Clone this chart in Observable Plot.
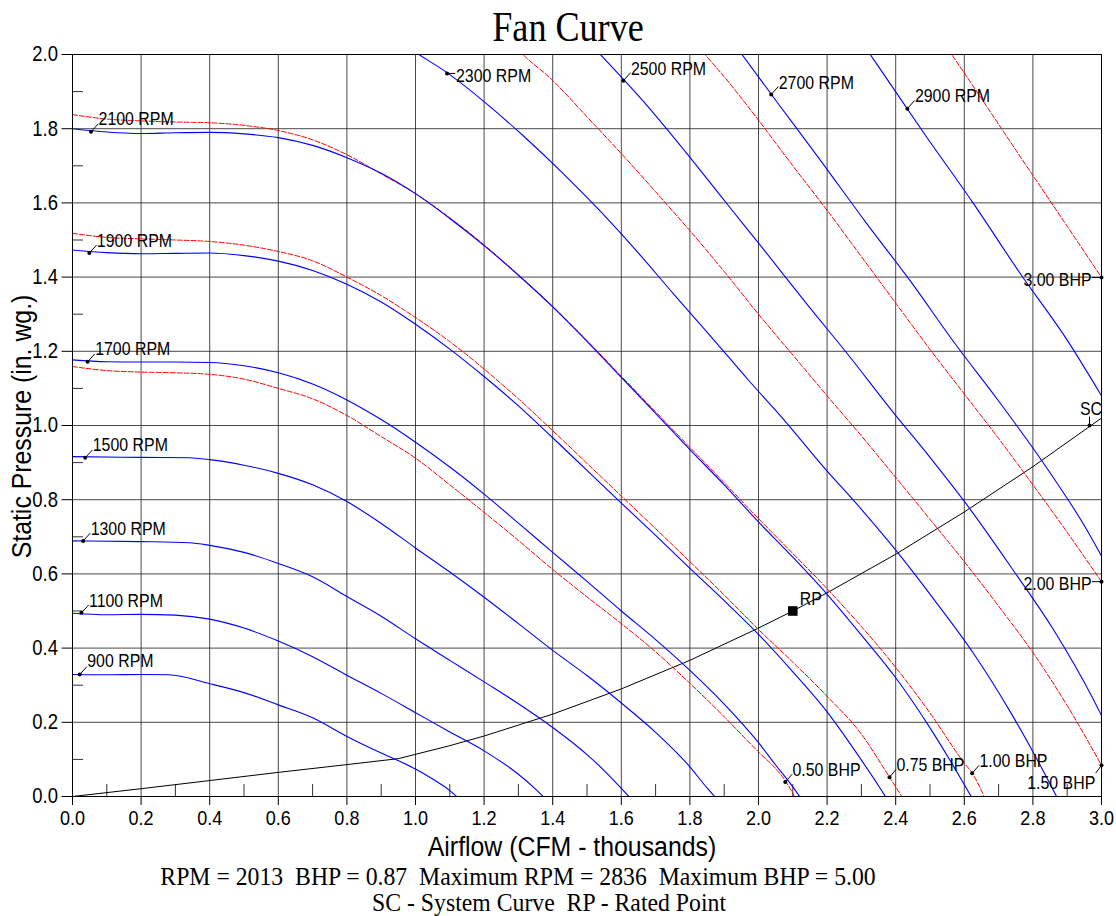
<!DOCTYPE html>
<html>
<head>
<meta charset="utf-8">
<script src="https://cdn.jsdelivr.net/npm/d3@7"></script>
<script src="https://cdn.jsdelivr.net/npm/@observablehq/plot@0.6"></script>
<style>
  html, body { margin: 0; padding: 0; background: #fff; }
  #chart svg { display: block; }
</style>
</head>
<body>
<div id="chart"></div>
<script>
// ---------- Axis ticks ----------
const xTicks = [0, 0.2, 0.4, 0.6, 0.8, 1.0, 1.2, 1.4, 1.6, 1.8, 2.0, 2.2, 2.4, 2.6, 2.8, 3.0];
const yTicks = [0, 0.2, 0.4, 0.6, 0.8, 1.0, 1.2, 1.4, 1.6, 1.8, 2.0];
const xMinor = [0.1, 0.3, 0.5, 0.7, 0.9, 1.1, 1.3, 1.5, 1.7, 1.9, 2.1, 2.3, 2.5, 2.7, 2.9];
const yMinor = [0.1, 0.3, 0.5, 0.7, 0.9, 1.1, 1.3, 1.5, 1.7, 1.9];

// ---------- Fan RPM curves (airflow, static pressure) ----------
const rpm900X  = [0, 0.1, 0.2, 0.28, 0.4, 0.5, 0.6, 0.7, 0.8, 0.9, 1.0, 1.05, 1.1, 1.12];
const rpm900Y  = [0.329, 0.328, 0.329, 0.328, 0.304, 0.280, 0.247, 0.212, 0.162, 0.117, 0.074, 0.047, 0.016, 0];
const rpm1100X = [0, 0.1, 0.2, 0.3, 0.4, 0.5, 0.6, 0.7, 0.8, 0.9, 1.0, 1.1, 1.2, 1.3, 1.35, 1.372];
const rpm1100Y = [0.494, 0.490, 0.491, 0.489, 0.478, 0.454, 0.419, 0.377, 0.327, 0.278, 0.226, 0.174, 0.123, 0.060, 0.020, 0];
const rpm1300X = [0, 0.2, 0.34, 0.4, 0.5, 0.6, 0.7, 0.8, 0.9, 1.0, 1.1, 1.2, 1.3, 1.4, 1.5, 1.55, 1.6, 1.622];
const rpm1300Y = [0.689, 0.687, 0.684, 0.677, 0.658, 0.628, 0.592, 0.539, 0.486, 0.425, 0.367, 0.309, 0.250, 0.186, 0.113, 0.070, 0.022, 0];
const rpm1500X = [0, 0.2, 0.34, 0.4, 0.5, 0.6, 0.7, 0.8, 0.9, 1.0, 1.1, 1.2, 1.3, 1.4, 1.5, 1.6, 1.7, 1.8, 1.85, 1.872];
const rpm1500Y = [0.916, 0.914, 0.913, 0.908, 0.893, 0.871, 0.840, 0.795, 0.736, 0.670, 0.605, 0.537, 0.466, 0.394, 0.326, 0.252, 0.173, 0.080, 0.023, 0];
const rpm1700X = [0, 0.1, 0.2, 0.3, 0.4, 0.5, 0.6, 0.7, 0.8, 0.9, 1.0, 1.1, 1.2, 1.3, 1.4, 1.5, 1.6, 1.7, 1.8, 1.9, 2.0, 2.05, 2.1, 2.12];
const rpm1700Y = [1.177, 1.172, 1.171, 1.171, 1.170, 1.161, 1.142, 1.112, 1.069, 1.016, 0.955, 0.888, 0.815, 0.737, 0.658, 0.580, 0.500, 0.423, 0.340, 0.249, 0.145, 0.085, 0.026, 0];
const rpm1900X = [0, 0.1, 0.2, 0.3, 0.4, 0.5, 0.6, 0.7, 0.8, 0.9, 1.0, 1.1, 1.2, 1.3, 1.4, 1.5, 1.6, 1.7, 1.8, 1.9, 2.0, 2.1, 2.2, 2.3, 2.35, 2.37];
const rpm1900Y = [1.473, 1.466, 1.463, 1.464, 1.465, 1.458, 1.443, 1.418, 1.381, 1.333, 1.273, 1.206, 1.132, 1.053, 0.967, 0.879, 0.791, 0.704, 0.615, 0.528, 0.437, 0.336, 0.228, 0.098, 0.029, 0];
const rpm2100X = [0, 0.1, 0.2, 0.3, 0.4, 0.5, 0.6, 0.7, 0.8, 0.9, 1.0, 1.1, 1.2, 1.3, 1.4, 1.5, 1.6, 1.7, 1.8, 1.9, 2.0, 2.1, 2.2, 2.3, 2.4, 2.5, 2.56, 2.62];
const rpm2100Y = [1.800, 1.791, 1.787, 1.789, 1.790, 1.786, 1.776, 1.755, 1.722, 1.680, 1.625, 1.558, 1.485, 1.405, 1.320, 1.227, 1.130, 1.033, 0.935, 0.840, 0.740, 0.645, 0.545, 0.435, 0.320, 0.185, 0.095, 0];
const rpm2300X = [0.95, 0.986, 1.095, 1.205, 1.314, 1.424, 1.533, 1.643, 1.752, 1.862, 1.971, 2.081, 2.19, 2.3, 2.409, 2.519, 2.628, 2.738, 2.804, 2.869];
const rpm2300Y = [2.04, 2.015, 1.949, 1.869, 1.781, 1.685, 1.583, 1.472, 1.355, 1.239, 1.122, 1.008, 0.888, 0.774, 0.654, 0.522, 0.384, 0.222, 0.114, 0];
const rpm2500X = [1.429, 1.548, 1.667, 1.786, 1.905, 2.024, 2.143, 2.262, 2.381, 2.5, 2.619, 2.738, 2.857, 2.976, 3.0];
const rpm2500Y = [2.105, 1.991, 1.871, 1.739, 1.601, 1.464, 1.325, 1.190, 1.049, 0.914, 0.772, 0.616, 0.454, 0.262, 0.218];
const rpm2700X = [1.8, 1.929, 2.057, 2.186, 2.314, 2.443, 2.571, 2.7, 2.829, 2.957, 3.0];
const rpm2700Y = [2.182, 2.028, 1.868, 1.708, 1.546, 1.389, 1.223, 1.066, 0.901, 0.719, 0.648];
const rpm2900X = [2.21, 2.348, 2.486, 2.624, 2.762, 2.9, 3.0];
const rpm2900Y = [2.155, 1.970, 1.783, 1.602, 1.411, 1.230, 1.080];

// ---------- Brake horsepower curves ----------
const bhp050X = [0, 0.1, 0.2, 0.3, 0.4, 0.5, 0.6, 0.7, 0.8, 0.9, 1.0, 1.1, 1.2, 1.3, 1.4, 1.5, 1.6, 1.7, 1.8, 1.9, 2.0, 2.05, 2.08, 2.105];
const bhp050Y = [1.159, 1.148, 1.144, 1.142, 1.138, 1.125, 1.100, 1.072, 1.027, 0.970, 0.912, 0.840, 0.766, 0.690, 0.612, 0.538, 0.466, 0.390, 0.305, 0.215, 0.120, 0.075, 0.040, 0];
const bhp075X = [0, 0.1, 0.2, 0.3, 0.4, 0.5, 0.6, 0.7, 0.8, 0.9, 1.0, 1.1, 1.2, 1.3, 1.4, 1.5, 1.6, 1.7, 1.8, 1.9, 2.0, 2.1, 2.2, 2.3, 2.38, 2.418];
const bhp075Y = [1.518, 1.507, 1.503, 1.500, 1.496, 1.486, 1.469, 1.444, 1.400, 1.350, 1.291, 1.226, 1.152, 1.072, 0.986, 0.898, 0.810, 0.722, 0.633, 0.543, 0.450, 0.362, 0.270, 0.168, 0.055, 0];
const bhp100X = [0, 0.1, 0.2, 0.3, 0.4, 0.5, 0.6, 0.7, 0.8, 0.9, 1.0, 1.1, 1.2, 1.3, 1.4, 1.5, 1.6, 1.7, 1.8, 1.9, 2.0, 2.1, 2.2, 2.3, 2.4, 2.5, 2.6, 2.623, 2.658];
const bhp100Y = [1.838, 1.826, 1.821, 1.818, 1.816, 1.809, 1.795, 1.770, 1.730, 1.678, 1.625, 1.560, 1.487, 1.406, 1.321, 1.229, 1.133, 1.037, 0.941, 0.846, 0.749, 0.655, 0.560, 0.458, 0.348, 0.225, 0.090, 0.063, 0];
const bhp150X = [1.25, 1.3, 1.4, 1.5, 1.6, 1.7, 1.8, 1.9, 2.0, 2.1, 2.2, 2.3, 2.4, 2.5, 2.6, 2.7, 2.8, 2.9, 3.0];
const bhp150Y = [2.07, 2.013, 1.930, 1.832, 1.733, 1.630, 1.525, 1.415, 1.300, 1.190, 1.080, 0.972, 0.860, 0.747, 0.633, 0.513, 0.388, 0.245, 0.084];
const bhp200X = [1.8, 1.844, 1.9, 2.0, 2.1, 2.2, 2.3, 2.4, 2.5, 2.6, 2.7, 2.8, 2.9, 3.0];
const bhp200Y = [2.05, 2.0, 1.940, 1.823, 1.700, 1.580, 1.455, 1.330, 1.205, 1.085, 0.965, 0.840, 0.712, 0.579];
const bhp300X = [2.52, 2.563, 2.6, 2.7, 2.8, 2.9, 3.0];
const bhp300Y = [2.06, 2.0, 1.950, 1.812, 1.674, 1.537, 1.399];

// ---------- System curve ----------
const sysX = [0, 0.2, 0.4, 0.6, 0.8, 0.95, 1.1, 1.2, 1.4, 1.6, 1.8, 2.0, 2.1, 2.2, 2.4, 2.6, 2.8, 3.0];
const sysY = [0, 0.021, 0.043, 0.065, 0.086, 0.102, 0.137, 0.163, 0.222, 0.290, 0.367, 0.454, 0.500, 0.549, 0.653, 0.767, 0.889, 1.020];

// Rated point
const rpX = [2.1];
const rpY = [0.5];

// ---------- Curve labels: text, marker point, leader end, text anchor ----------
const rpmLabels = ["900 RPM", "1100 RPM", "1300 RPM", "1500 RPM", "1700 RPM", "1900 RPM", "2100 RPM", "2300 RPM", "2500 RPM", "2700 RPM", "2900 RPM"];
const rpmDotX   = [0.021, 0.026, 0.031, 0.037, 0.044, 0.049, 0.054, 1.092, 1.606, 2.037, 2.434];
const rpmDotY   = [0.329, 0.495, 0.689, 0.913, 1.172, 1.465, 1.792, 1.949, 1.929, 1.892, 1.854];
const rpmLeadX  = [0.042, 0.047, 0.052, 0.058, 0.065, 0.070, 0.075, 1.116, 1.627, 2.058, 2.455];
const rpmLeadY  = [0.350, 0.516, 0.710, 0.934, 1.193, 1.486, 1.813, 1.949, 1.951, 1.914, 1.876];
const rpmTextX  = [0.043, 0.048, 0.053, 0.059, 0.066, 0.071, 0.076, 1.118, 1.628, 2.059, 2.456];
const rpmTextY  = [0.364, 0.527, 0.722, 0.946, 1.206, 1.497, 1.825, 1.941, 1.961, 1.924, 1.887];

const bhpLabels = ["0.50 BHP", "0.75 BHP", "1.00 BHP", "1.50 BHP", "2.00 BHP", "3.00 BHP"];
const bhpDotX   = [2.078, 2.382, 2.623, 3.0, 3.0, 3.0];
const bhpDotY   = [0.039, 0.052, 0.063, 0.084, 0.579, 1.399];
const bhpLeadX  = [2.098, 2.401, 2.643, 2.983, 2.972, 2.972];
const bhpLeadY  = [0.060, 0.073, 0.084, 0.063, 0.579, 1.399];
const bhpTextX  = [2.099, 2.402, 2.644, 2.982, 2.971, 2.971];
const bhpTextY  = [0.072, 0.085, 0.095, 0.036, 0.572, 1.392];
const bhpAnchor = ["start", "start", "start", "end", "end", "end"];

const scDot = [2.965, 1.0];
const scLead = [2.965, 1.024];
const scText = [2.937, 1.044];

// ---------- Texts ----------
const titleText = "Fan Curve";
const xLabel = "Airflow (CFM - thousands)";
const yLabel = "Static Pressure (in. wg.)";
const caption1 = "RPM = 2013  BHP = 0.87  Maximum RPM = 2836  Maximum BHP = 5.00";
const caption2 = "SC - System Curve  RP - Rated Point";

// ---------- Build tables ----------
const toRows = (name, xs, ys) => xs.map((x, i) => ({name, x, y: ys[i]}));
const rpmData = [
  toRows("900", rpm900X, rpm900Y), toRows("1100", rpm1100X, rpm1100Y),
  toRows("1300", rpm1300X, rpm1300Y), toRows("1500", rpm1500X, rpm1500Y),
  toRows("1700", rpm1700X, rpm1700Y), toRows("1900", rpm1900X, rpm1900Y),
  toRows("2100", rpm2100X, rpm2100Y), toRows("2300", rpm2300X, rpm2300Y),
  toRows("2500", rpm2500X, rpm2500Y), toRows("2700", rpm2700X, rpm2700Y),
  toRows("2900", rpm2900X, rpm2900Y)
].flat();
const bhpData = [
  toRows("0.50", bhp050X, bhp050Y), toRows("0.75", bhp075X, bhp075Y),
  toRows("1.00", bhp100X, bhp100Y), toRows("1.50", bhp150X, bhp150Y),
  toRows("2.00", bhp200X, bhp200Y), toRows("3.00", bhp300X, bhp300Y)
].flat();
const sysData = toRows("SC", sysX, sysY);
const rpmLab = rpmLabels.map((t, i) => ({t, x: rpmDotX[i], y: rpmDotY[i], lx: rpmLeadX[i], ly: rpmLeadY[i], tx: rpmTextX[i], ty: rpmTextY[i]}));
const bhpLab = bhpLabels.map((t, i) => ({t, x: bhpDotX[i], y: bhpDotY[i], lx: bhpLeadX[i], ly: bhpLeadY[i], tx: bhpTextX[i], ty: bhpTextY[i], a: bhpAnchor[i]}));
const rpData = rpX.map((x, i) => ({x, y: rpY[i]}));

// ---------- Layout ----------
const W = 1116, H = 916;
const mL = 72, mR = 15, mT = 54, mB = 120;
const plotH = H - mT - mB, plotW = W - mL - mR;
const sans = "'Liberation Sans', Arial, sans-serif";
const serif = "'Liberation Serif', 'Times New Roman', serif";
const f1 = d3.format(".1f");
const labelSize = 18.5;
const condense = 0.86;        // the reference's lettering is horizontally narrow
const condenseWide = 0.92;    // axis titles
const condenseCaption = 0.95; // caption lines

const chart = Plot.plot({
  width: W, height: H,
  marginLeft: mL, marginRight: mR, marginTop: mT, marginBottom: mB,
  x: {domain: [0, 3]},
  y: {domain: [0, 2]},
  style: {fontFamily: sans, fontSize: "21px", background: "#fff", color: "#000", overflow: "visible"},
  marks: [
    Plot.gridX(xTicks, {stroke: "#2a2a2a", strokeOpacity: 0.85, strokeWidth: 1}),
    Plot.gridY(yTicks, {stroke: "#2a2a2a", strokeOpacity: 0.85, strokeWidth: 1}),
    Plot.tickX(xMinor, {x: d => d, insetTop: plotH - 12, stroke: "#333"}),
    Plot.tickY(yMinor, {y: d => d, insetRight: plotW - 11, stroke: "#333"}),
    Plot.axisX(xTicks, {tickSize: 9, tickPadding: 5, tickFormat: f1, label: null, fontSize: 21}),
    Plot.axisY(yTicks, {tickSize: 10.5, tickPadding: 4, tickFormat: f1, label: null, fontSize: 21.5}),
    Plot.line(sysData, {x: "x", y: "y", stroke: "#000", strokeWidth: 1}),
    Plot.line(bhpData, {x: "x", y: "y", z: "name", stroke: "#ff0000", strokeWidth: 1, strokeDasharray: "5,2", curve: "monotone-x", clip: true}),
    Plot.line(rpmData, {x: "x", y: "y", z: "name", stroke: "#0000ff", strokeWidth: 1.1, curve: "monotone-x", clip: true}),
    Plot.frame({stroke: "#000", strokeWidth: 1}),
    // RPM labels
    Plot.link(rpmLab, {x1: "x", y1: "y", x2: "lx", y2: "ly", stroke: "#000", strokeWidth: 1}),
    Plot.dot(rpmLab, {x: "x", y: "y", r: 2, fill: "#000"}),
    Plot.text(rpmLab, {x: "tx", y: "ty", text: "t", textAnchor: "start", lineAnchor: "middle", fontSize: labelSize, fill: "#000"}),
    // BHP labels
    Plot.link(bhpLab, {x1: "x", y1: "y", x2: "lx", y2: "ly", stroke: "#000", strokeWidth: 1}),
    Plot.dot(bhpLab, {x: "x", y: "y", r: 2, fill: "#000"}),
    Plot.text(bhpLab.filter(d => d.a === "start"), {x: "tx", y: "ty", text: "t", textAnchor: "start", lineAnchor: "middle", fontSize: labelSize, fill: "#000"}),
    Plot.text(bhpLab.filter(d => d.a === "end"), {x: "tx", y: "ty", text: "t", textAnchor: "end", lineAnchor: "middle", fontSize: labelSize, fill: "#000"}),
    // System curve label
    Plot.link([scDot], {x1: d => d[0], y1: d => d[1], x2: () => scLead[0], y2: () => scLead[1], stroke: "#000"}),
    Plot.dot([scDot], {x: d => d[0], y: d => d[1], r: 2, fill: "#000"}),
    Plot.text([scText], {x: d => d[0], y: d => d[1], text: () => "SC", textAnchor: "start", lineAnchor: "middle", fontSize: labelSize, fill: "#000", clip: true}),
    // Rated point
    Plot.dot(rpData, {x: "x", y: "y", symbol: "square", r: 5.4, fill: "#000", stroke: null}),
    Plot.text(rpData, {x: "x", y: "y", text: () => "RP", textAnchor: "start", lineAnchor: "middle", dx: 7, dy: -12, fontSize: labelSize, fill: "#000"}),
    // Titles and captions
    Plot.text([titleText], {frameAnchor: "top", textAnchor: "middle", lineAnchor: "middle", dx: -19, dy: -27, fontSize: 42, fontFamily: serif, fill: "#000"}),
    Plot.text([xLabel], {frameAnchor: "bottom", textAnchor: "middle", lineAnchor: "middle", dx: -15, dy: 51, fontSize: 27, fill: "#000"}),
    Plot.text([yLabel], {frameAnchor: "left", textAnchor: "middle", lineAnchor: "middle", rotate: -90, dx: -50, dy: 1, fontSize: 27, fill: "#000"}),
    Plot.text([caption1], {frameAnchor: "bottom", textAnchor: "middle", lineAnchor: "middle", dx: -69, dy: 80.5, fontSize: 25, fontFamily: serif, fill: "#000"}),
    Plot.text([caption2], {frameAnchor: "bottom", textAnchor: "middle", lineAnchor: "middle", dx: -38, dy: 106, fontSize: 25, fontFamily: serif, fill: "#000"})
  ]
});

// Narrow every text horizontally around its own anchor, like the reference lettering.
const captions = new Set([caption1, caption2]);
const axisTitles = new Set([xLabel, yLabel]);
d3.select(chart).selectAll("text").each(function() {
  const s = this.textContent;
  const k = captions.has(s) ? condenseCaption : axisTitles.has(s) ? condenseWide : condense;
  const x = +this.getAttribute("x") || 0;
  const y = +this.getAttribute("y") || 0;
  const t = this.getAttribute("transform") || "";
  this.setAttribute("transform", `${t} translate(${x},${y}) scale(${k},1) translate(${-x},${-y})`.trim());
});

document.getElementById("chart").appendChild(chart);
</script>
</body>
</html>
